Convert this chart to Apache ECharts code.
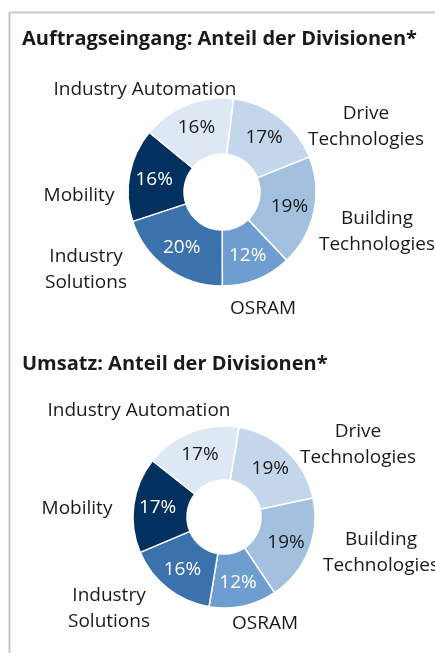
<!DOCTYPE html>
<html>
<head>
<meta charset="utf-8">
<script src="https://cdn.jsdelivr.net/npm/echarts@6/dist/echarts.min.js"></script>
<style>
html, body { margin: 0; padding: 0; background: #fff; }
#chart { width: 435px; height: 653px; }
</style>
</head>
<body>
<div id="chart"></div>
<script>
// Divisionen (im Uhrzeigersinn ab 12 Uhr)
var divisions = ['Drive\nTechnologies', 'Building\nTechnologies', 'OSRAM', 'Industry\nSolutions', 'Mobility', 'Industry Automation'];
// Auftragseingang, Anteil in %
var orderShare = [17, 19, 12, 20, 16, 16];
// Umsatz, Anteil in %
var revenueShare = [19, 19, 12, 16, 17, 17];

var sliceColors = ['#c3d6eb', '#a3c0de', '#6e9ed0', '#3b71ad', '#03315f', '#dee8f4'];
var pctColors = ['#1a1a1a', '#1a1a1a', '#ffffff', '#ffffff', '#ffffff', '#1a1a1a'];

var FONT = 'Open Sans';

// Lage der Namen relativ zum Kreismittelpunkt
var nameOffsets1 = [[144, -65], [155, 40], [41, 117], [-136, 78], [-143, 4], [-77, -102]];
var nameOffsets2 = [[134, -72], [157, 36], [41, 107], [-115, 92], [-147, -8], [-85, -106]];

function buildData(values) {
  return values.map(function (v, i) {
    return {
      name: divisions[i],
      value: v,
      itemStyle: { color: sliceColors[i] },
      label: { color: pctColors[i] }
    };
  });
}

function nameLayout(center, offsets) {
  return function (p) {
    var o = offsets[p.dataIndex];
    return { x: center[0] + o[0], y: center[1] + o[1], align: 'center', verticalAlign: 'middle' };
  };
}

function pieSeries(values, center, radius, startAngle, offsets) {
  return [
    {
      type: 'pie',
      center: center,
      radius: radius,
      startAngle: startAngle,
      clockwise: true,
      silent: true,
      avoidLabelOverlap: false,
      itemStyle: { borderColor: '#fff', borderWidth: 1.5 },
      label: {
        show: true,
        position: 'inside',
        formatter: '{c}%',
        fontFamily: FONT,
        fontSize: 19
      },
      labelLine: { show: false },
      data: buildData(values)
    },
    {
      type: 'pie',
      center: center,
      radius: radius,
      startAngle: startAngle,
      clockwise: true,
      silent: true,
      avoidLabelOverlap: false,
      itemStyle: { color: 'transparent', borderWidth: 0 },
      label: {
        show: true,
        position: 'outside',
        formatter: '{b}',
        color: '#1a1a1a',
        fontFamily: FONT,
        fontSize: 19,
        lineHeight: 26,
        overflow: 'none'
      },
      labelLine: { show: false },
      labelLayout: nameLayout(center, offsets),
      data: values.map(function (v, i) { return { name: divisions[i], value: v }; })
    }
  ];
}

var chart = echarts.init(document.getElementById('chart'));
var option = {
  animation: false,
  title: [
    {
      text: 'Auftragseingang: Anteil der Divisionen*',
      left: 22, top: 29, padding: 0,
      textStyle: { fontFamily: FONT, fontSize: 20, fontWeight: 'bold', color: '#1a1a1a' }
    },
    {
      text: 'Umsatz: Anteil der Divisionen*',
      left: 22, top: 354, padding: 0,
      textStyle: { fontFamily: FONT, fontSize: 20, fontWeight: 'bold', color: '#1a1a1a' }
    }
  ],
  graphic: [
    {
      type: 'polyline',
      silent: true,
      shape: { points: [[9.5, 660], [9.5, 12.5], [440, 12.5]] },
      style: { stroke: '#c8c8c8', lineWidth: 2, fill: null }
    }
  ],
  series: [].concat(
    pieSeries(orderShare, [222, 192], [38, 94], 83, nameOffsets1),
    pieSeries(revenueShare, [224, 517], [37, 91], 80.5, nameOffsets2)
  )
};
chart.setOption(option);
</script>
</body>
</html>
